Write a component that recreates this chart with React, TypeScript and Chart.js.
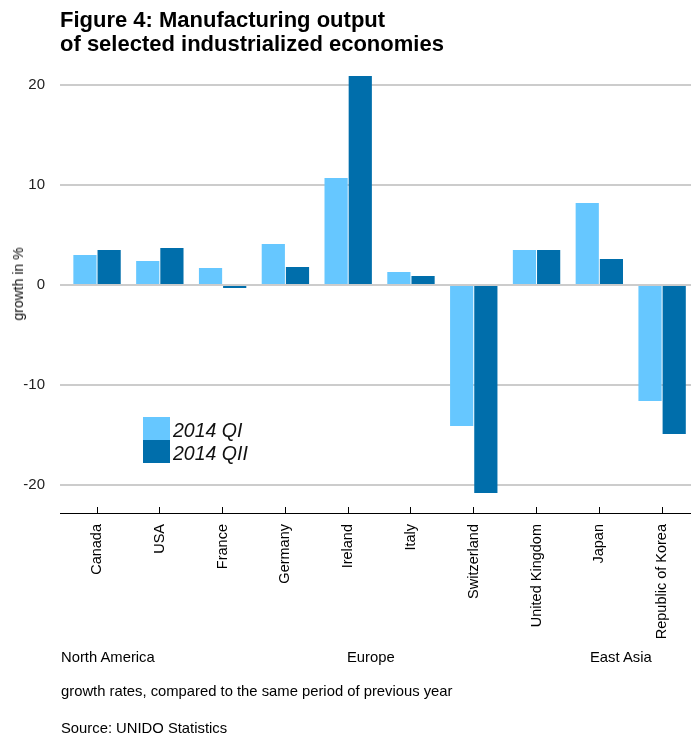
import React, { useEffect, useRef } from "react";
import { Chart, registerables } from "chart.js";

Chart.register(...registerables);

const categories = [
  "Canada",
  "USA",
  "France",
  "Germany",
  "Ireland",
  "Italy",
  "Switzerland",
  "United Kingdom",
  "Japan",
  "Republic of Korea",
];
const seriesLabels = ["2014 QI", "2014 QII"];
const q1 = [3.0, 2.4, 1.7, 4.1, 10.7, 1.3, -14.1, 3.5, 8.2, -11.6];
const q2 = [3.5, 3.7, -0.3, 1.8, 20.9, 0.9, -20.8, 3.5, 2.6, -14.9];
const yTicks = [-20, -10, 0, 10, 20];
const regionLabels = ["North America", "Europe", "East Asia"];
const titleLines = ["Figure 4: Manufacturing output", "of selected industrialized economies"];
const yTitle = "growth in %";
const notes = ["growth rates, compared to the same period of previous year", "Source: UNIDO Statistics"];

const colors = ["#66c7ff", "#006eab"];
const FONT = "'Liberation Sans', Arial, Helvetica, sans-serif";

export default function App() {
  const ref = useRef<HTMLCanvasElement | null>(null);

  useEffect(() => {
    if (!ref.current) return;
    Chart.defaults.font.family = FONT;
    const chart = new Chart(ref.current, {
      type: "bar",
      data: {
        datasets: [q1, q2].map((vals, k) => ({
          label: seriesLabels[k],
          data: vals.map((v, i) => ({ x: i, y: v })),
          backgroundColor: colors[k],
          borderWidth: 0,
          categoryPercentage: 0.77,
          barPercentage: 0.96,
        })),
      },
      options: {
        responsive: false,
        maintainAspectRatio: false,
        animation: false,
        layout: { padding: { top: 70, left: 0, right: 0, bottom: 0 } },
        plugins: { legend: { display: false }, tooltip: { enabled: false } },
        scales: {
          x: {
            type: "linear",
            min: -0.59,
            max: 9.46,
            offset: false,
            afterBuildTicks: (s: any) => {
              s.ticks = categories.map((_, i) => ({ value: i }));
            },
            afterFit: (s: any) => {
              s.height = 223;
              s.paddingLeft = 0;
              s.paddingRight = 0;
            },
            grid: {
              offset: false,
              drawOnChartArea: false,
              drawTicks: true,
              tickLength: -6,
              color: "#000",
              lineWidth: 1,
            },
            border: { display: true, color: "#000", width: 1 },
            ticks: {
              autoSkip: false,
              maxRotation: 90,
              minRotation: 90,
              padding: 17,
              color: "#000",
              font: { family: FONT, size: 14.5 },
              callback: (v: any) => categories[v as number] ?? "",
            },
          },
          y: {
            min: -22.8,
            max: 21.5,
            afterBuildTicks: (s: any) => {
              s.ticks = yTicks.map((v) => ({ value: v }));
            },
            afterFit: (s: any) => {
              s.width = 60;
              s.paddingTop = 0;
              s.paddingBottom = 0;
            },
            grid: { color: "#cccccc", lineWidth: 2, drawTicks: false },
            border: { display: false },
            ticks: {
              padding: 15,
              color: "#222",
              font: { family: FONT, size: 15 },
            },
          },
        },
      },
    });
    return () => chart.destroy();
  }, []);

  const text = (s: React.CSSProperties): React.CSSProperties => ({
    position: "absolute",
    fontFamily: FONT,
    color: "#000",
    whiteSpace: "nowrap",
    ...s,
  });

  return (
    <div
      style={{
        position: "fixed",
        left: 0,
        top: 0,
        width: 691,
        height: 736,
        background: "#fff",
        overflow: "hidden",
      }}
    >
      <canvas ref={ref} width={691} height={736} style={{ position: "absolute", left: 0, top: 0 }} />
      <div style={text({ left: 60, top: 8, fontSize: 22, lineHeight: "24px", fontWeight: "bold" })}>
        {titleLines[0]}
        <br />
        {titleLines[1]}
      </div>
      <div
        style={text({
          left: 18,
          top: 284,
          fontSize: 14,
          lineHeight: "16px",
          transform: "translate(-50%, -50%) rotate(-90deg)",
          color: "#111",
        })}
      >
        {yTitle}
      </div>
      {seriesLabels.map((l, k) => (
        <React.Fragment key={l}>
          <div
            style={{
              position: "absolute",
              left: 143,
              top: 417 + k * 23,
              width: 27,
              height: 23,
              background: colors[k],
            }}
          />
          <div
            style={text({
              left: 173,
              top: 419 + k * 23,
              fontSize: 19.5,
              lineHeight: "23px",
              fontStyle: "italic",
              color: "#111",
            })}
          >
            {l}
          </div>
        </React.Fragment>
      ))}
      {[61, 347, 590].map((x, i) => (
        <div key={i} style={text({ left: x, top: 649, fontSize: 14.8, lineHeight: "16px" })}>
          {regionLabels[i]}
        </div>
      ))}
      <div style={text({ left: 61, top: 683, fontSize: 14.8, lineHeight: "16px" })}>{notes[0]}</div>
      <div style={text({ left: 61, top: 720, fontSize: 14.8, lineHeight: "16px" })}>{notes[1]}</div>
    </div>
  );
}
